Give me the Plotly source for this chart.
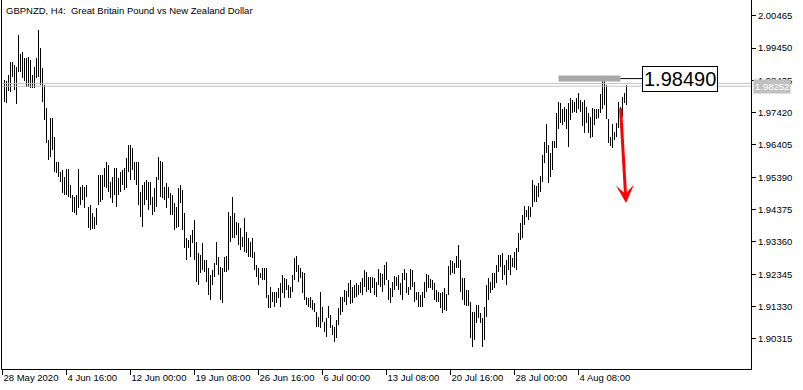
import plotly.graph_objects as go

# ---- data (GBPNZD H4 bars, high/low) ----
highs = [
    1.98446, 1.98415, 1.98603, 1.99011, 1.99011, 1.98917, 1.98854, 1.99859, 1.99262, 1.99325,
    1.99137, 1.99137, 1.99168, 1.99074, 1.98603, 1.98854, 1.99137, 2.00016, 1.99451, 1.98823,
    1.98289, 1.97567, 1.96562, 1.97253, 1.97253, 1.96656, 1.95871, 1.95871, 1.95557, 1.95620,
    1.95400, 1.95651, 1.95651, 1.95149, 1.94835, 1.94772, 1.94835, 1.95651, 1.95086, 1.95149,
    1.95086, 1.95149, 1.94458, 1.94521, 1.94270, 1.94144, 1.94427, 1.95463, 1.95463, 1.95463,
    1.95683, 1.95871, 1.95777, 1.95243, 1.95400, 1.95683, 1.95683, 1.95369, 1.95557, 1.95620,
    1.95683, 1.95997, 1.96405, 1.96405, 1.96311, 1.95871, 1.95871, 1.95871, 1.94929, 1.95149,
    1.95243, 1.95306, 1.95243, 1.95243, 1.94772, 1.95055, 1.95400, 1.96028, 1.95903, 1.95871,
    1.95086, 1.95212, 1.95086, 1.94898, 1.94835, 1.94584, 1.94458, 1.95055, 1.95149, 1.94992,
    1.94270, 1.93485, 1.93422, 1.93579, 1.93736, 1.94050, 1.93359, 1.93014, 1.92951, 1.93328,
    1.92794, 1.92794, 1.92543, 1.92323, 1.92480, 1.92700, 1.93359, 1.92888, 1.92574, 1.92543,
    1.92888, 1.92920, 1.94301, 1.94176, 1.94772, 1.94270, 1.93987, 1.93956, 1.93799, 1.93516,
    1.94113, 1.93673, 1.93485, 1.93359, 1.93485, 1.93045, 1.92637, 1.92543, 1.92386, 1.92543,
    1.92543, 1.92543, 1.91695, 1.91946, 1.91789, 1.91789, 1.91789, 1.91915, 1.92072, 1.92323,
    1.92229, 1.92197, 1.92009, 1.91946, 1.92323, 1.92857, 1.92920, 1.92637, 1.92543, 1.92417,
    1.92386, 1.91632, 1.91601, 1.91632, 1.91538, 1.91444, 1.91161, 1.91004, 1.91789, 1.91318,
    1.90847, 1.90973, 1.91350, 1.91067, 1.90753, 1.90690, 1.90910, 1.91287, 1.91632, 1.91632,
    1.91852, 1.91821, 1.92072, 1.92166, 1.91946, 1.92009, 1.92072, 1.92009, 1.92103, 1.92229,
    1.92480, 1.92417, 1.92260, 1.92260, 1.92260, 1.92229, 1.92103, 1.92511, 1.92386, 1.92354,
    1.92637, 1.92731, 1.92166, 1.91915, 1.92103, 1.92292, 1.92260, 1.92323, 1.92072, 1.92386,
    1.92511, 1.92386, 1.91946, 1.92511, 1.92480, 1.92103, 1.91789, 1.91789, 1.91695, 1.91789,
    1.92103, 1.92354, 1.92323, 1.92197, 1.92166, 1.92072, 1.91852, 1.91789, 1.91758, 1.91789,
    1.91915, 1.91726, 1.92606, 1.92794, 1.92763, 1.92700, 1.92920, 1.93265, 1.92794, 1.92229,
    1.92229, 1.91852, 1.91852, 1.91475, 1.91161, 1.91161, 1.91381, 1.91381, 1.91130, 1.90973,
    1.91318, 1.92009, 1.92229, 1.92103, 1.92386, 1.92386, 1.92637, 1.92951, 1.92951, 1.93014,
    1.92637, 1.92794, 1.92951, 1.92951, 1.92857, 1.93045, 1.93171, 1.93642, 1.93956, 1.94207,
    1.94490, 1.94364, 1.94490, 1.94458, 1.95306, 1.95149, 1.95118, 1.95212, 1.95432, 1.96091,
    1.96499, 1.97064, 1.96405, 1.96154, 1.96531, 1.96531, 1.97410, 1.97755, 1.97724, 1.97535,
    1.97598, 1.97535, 1.97724, 1.97881, 1.97818, 1.97755, 1.97881, 1.98038, 1.97818, 1.97755,
    1.97818, 1.97598, 1.97410, 1.97284, 1.97567, 1.97535, 1.97535, 1.97535, 1.98006, 1.98572,
    1.98572, 1.98289, 1.97221, 1.96656, 1.97064, 1.96813, 1.97096, 1.97755, 1.97598, 1.97912,
    1.98038, 1.98289,
]
lows = [
    1.97755, 1.97724, 1.98101, 1.98069, 1.98540, 1.98132, 1.97692, 1.98697, 1.98697, 1.98509,
    1.98415, 1.98226, 1.98226, 1.98195, 1.98195, 1.98195, 1.98509, 1.98540, 1.98289, 1.97755,
    1.97190, 1.96468, 1.95934, 1.96028, 1.96248, 1.95557, 1.95526, 1.95400, 1.95243, 1.94898,
    1.94835, 1.94835, 1.94772, 1.94741, 1.94301, 1.94270, 1.94207, 1.94427, 1.94521, 1.94678,
    1.94427, 1.94772, 1.93799, 1.93736, 1.93767, 1.93767, 1.93893, 1.94521, 1.94615, 1.94678,
    1.95086, 1.95055, 1.94929, 1.94741, 1.94584, 1.94835, 1.94458, 1.94835, 1.94929, 1.95149,
    1.94992, 1.95055, 1.95557, 1.95306, 1.95620, 1.95306, 1.95149, 1.94521, 1.94144, 1.93830,
    1.94521, 1.94678, 1.94364, 1.94521, 1.94207, 1.94301, 1.94458, 1.95306, 1.94772, 1.94741,
    1.94678, 1.94427, 1.94741, 1.94207, 1.94207, 1.93736, 1.93799, 1.93830, 1.94584, 1.93736,
    1.93171, 1.92794, 1.93171, 1.92888, 1.93328, 1.92794, 1.92103, 1.92009, 1.92386, 1.92480,
    1.92417, 1.92103, 1.91695, 1.91538, 1.92009, 1.92260, 1.92637, 1.92323, 1.91538, 1.91444,
    1.92417, 1.92417, 1.92480, 1.93359, 1.93485, 1.93485, 1.93579, 1.93265, 1.93108, 1.93202,
    1.93045, 1.93014, 1.92888, 1.92888, 1.92857, 1.92480, 1.92260, 1.92009, 1.92229, 1.92166,
    1.92166, 1.91601, 1.91287, 1.91287, 1.91475, 1.91318, 1.91444, 1.91601, 1.91318, 1.91758,
    1.91601, 1.91852, 1.91601, 1.91601, 1.91789, 1.92166, 1.92417, 1.92103, 1.92229, 1.91758,
    1.91538, 1.91381, 1.91318, 1.91287, 1.91224, 1.91161, 1.90690, 1.90690, 1.90659, 1.90847,
    1.90533, 1.90376, 1.90973, 1.90659, 1.90439, 1.90219, 1.90345, 1.90753, 1.91067, 1.91161,
    1.91475, 1.91381, 1.91632, 1.91412, 1.91444, 1.91601, 1.91632, 1.91695, 1.91758, 1.91695,
    1.91946, 1.91789, 1.91852, 1.91758, 1.91915, 1.91695, 1.91632, 1.92009, 1.91946, 1.91789,
    1.92009, 1.92166, 1.91538, 1.91444, 1.91632, 1.91852, 1.91978, 1.91852, 1.91695, 1.91538,
    1.92166, 1.91758, 1.91695, 1.91852, 1.91946, 1.91475, 1.91538, 1.91318, 1.91318, 1.91318,
    1.91601, 1.91789, 1.91915, 1.91915, 1.91852, 1.91538, 1.91475, 1.91475, 1.91287, 1.91130,
    1.91224, 1.91193, 1.91695, 1.92323, 1.92386, 1.92354, 1.92543, 1.92543, 1.91789, 1.91538,
    1.91381, 1.91350, 1.91350, 1.90345, 1.90062, 1.90282, 1.90816, 1.90973, 1.90816, 1.90062,
    1.90282, 1.91004, 1.91538, 1.91758, 1.91852, 1.91915, 1.92072, 1.92417, 1.92574, 1.92166,
    1.92323, 1.92009, 1.92480, 1.92323, 1.92574, 1.92543, 1.92480, 1.93045, 1.93422, 1.93485,
    1.93893, 1.94144, 1.94050, 1.94144, 1.94458, 1.94615, 1.94615, 1.94772, 1.94929, 1.95243,
    1.95840, 1.96154, 1.95212, 1.95400, 1.95620, 1.96311, 1.96311, 1.96907, 1.97096, 1.97033,
    1.97127, 1.96907, 1.96342, 1.97190, 1.97410, 1.97441, 1.97410, 1.97535, 1.97441, 1.97002,
    1.96782, 1.97096, 1.96782, 1.96625, 1.96656, 1.97033, 1.97221, 1.97253, 1.97410, 1.97535,
    1.97661, 1.97221, 1.96468, 1.96374, 1.96311, 1.96562, 1.96656, 1.96939, 1.97284, 1.97284,
    1.97724, 1.97661,
]

x_tick_pos = [-1, 31, 63, 95, 127, 159, 191, 223, 255, 287]
x_tick_text = ["28 May 2020", "4 Jun 16:00", "12 Jun 00:00", "19 Jun 08:00", "26 Jun 16:00",
               "6 Jul 00:00", "13 Jul 08:00", "20 Jul 16:00", "28 Jul 00:00", "4 Aug 08:00"]
y_ticks = [1.90315, 1.91330, 1.92345, 1.93360, 1.94375, 1.95390, 1.96405,
           1.97420, 1.98435, 1.99450, 2.00465]

bid_price = 1.98252
ask_price = 1.98340
level_price = 1.98490
level_start, level_end, level_label_at = 277, 308, 318.75
arrow_from = (308, 1.97598)
arrow_to = (310.75, 1.94584)
title = "GBPNZD, H4:\u00a0 Great Britain Pound vs New Zealand Dollar"

FONT = "Liberation Sans, Arial, sans-serif"

xs, ys = [], []
for i, (h, l) in enumerate(zip(highs, lows)):
    xs += [i, i, None]
    ys += [l, h, None]

fig = go.Figure()
fig.add_trace(go.Scatter(x=xs, y=ys, mode="lines", line=dict(color="black", width=1),
                         hoverinfo="skip", showlegend=False))

fig.update_layout(
    width=803, height=390,
    margin=dict(l=2, r=52, t=0, b=21),
    paper_bgcolor="white", plot_bgcolor="white",
    showlegend=False,
    font=dict(family=FONT, size=9.5, color="black"),
    xaxis=dict(range=[-1.25, 373.25], showgrid=False, zeroline=False,
               showline=True, linecolor="black", linewidth=1, mirror=False,
               ticks="outside", ticklen=5, tickcolor="black", tickwidth=1,
               tickvals=x_tick_pos, ticktext=x_tick_text,
               ticklabelposition="outside right",
               tickfont=dict(family=FONT, size=9.5, color="black")),
    yaxis=dict(range=[1.89371, 2.00958], side="right", showgrid=False, zeroline=False,
               showline=True, linecolor="black", linewidth=1, mirror=True,
               ticks="outside", ticklen=4, tickcolor="black", tickwidth=1,
               tickvals=y_ticks, ticktext=[f"{v:.5f}" for v in y_ticks],
               tickfont=dict(family=FONT, size=9.5, color="black")),
)

# bid / ask lines
for p in (ask_price, bid_price):
    fig.add_shape(type="line", xref="paper", x0=0, x1=1, yref="y", y0=p, y1=p,
                  line=dict(color="#c0c0c0", width=1))

# horizontal level with label
fig.add_shape(type="line", xref="x", x0=level_start, x1=level_end, yref="y",
              y0=level_price, y1=level_price, line=dict(color="#a9a9a9", width=6))
fig.add_shape(type="line", xref="x", x0=level_end, x1=level_label_at, yref="y",
              y0=level_price, y1=level_price, line=dict(color="black", width=1))
fig.add_annotation(x=level_label_at, y=level_price, xref="x", yref="y",
                   text=f"{level_price:.5f}", showarrow=False, xanchor="left", yanchor="middle",
                   font=dict(family=FONT, size=20, color="black"),
                   bgcolor="white", bordercolor="black", borderwidth=1, borderpad=1)

# red arrow
fig.add_annotation(x=arrow_to[0], y=arrow_to[1], ax=arrow_from[0], ay=arrow_from[1],
                   xref="x", yref="y", axref="x", ayref="y", text="", showarrow=True,
                   arrowhead=3, arrowsize=1, arrowwidth=3, arrowcolor="red")

# bid price label on the axis
fig.add_annotation(x=1, y=bid_price, xref="paper", yref="y", xshift=2,
                   text=f"{bid_price:.5f}", showarrow=False, xanchor="left", yanchor="middle",
                   font=dict(family=FONT, size=9.5, color="white"),
                   bgcolor="#c0c0c0", borderpad=1)

# title
fig.add_annotation(x=0, y=1, xref="paper", yref="paper", xshift=2, yshift=-3,
                   text=title, showarrow=False, xanchor="left", yanchor="top",
                   font=dict(family=FONT, size=9.5, color="black"))

fig.write_html("out.html")
